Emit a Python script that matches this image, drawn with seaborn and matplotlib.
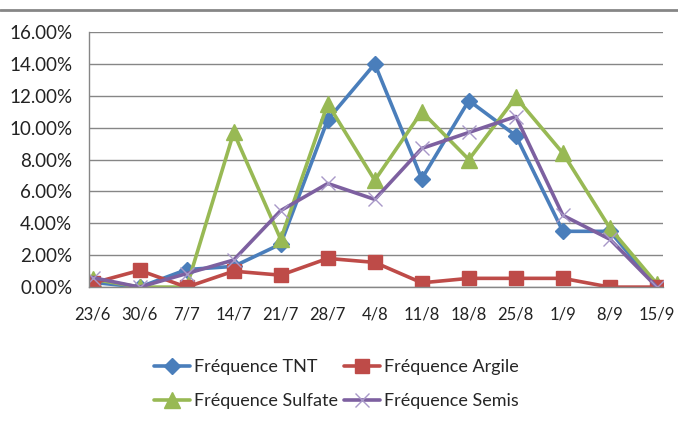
import numpy as np
import pandas as pd
import matplotlib
matplotlib.use("Agg")
import matplotlib.pyplot as plt
import seaborn as sns
from matplotlib.lines import Line2D
from matplotlib.ticker import PercentFormatter

# dates (x categories)
dates = ["23/6", "30/6", "7/7", "14/7", "21/7", "28/7", "4/8", "11/8",
         "18/8", "25/8", "1/9", "8/9", "15/9"]

# frequencies in %
tnt = [0.3, 0.0, 1.1, 1.3, 2.7, 10.5, 14.0, 6.8, 11.7, 9.5, 3.5, 3.5, 0.0]
argile = [0.25, 1.05, 0.0, 1.0, 0.75, 1.8, 1.55, 0.27, 0.55, 0.55, 0.55, 0.0, 0.0]
sulfate = [0.5, 0.0, 0.0, 9.7, 3.0, 11.5, 6.7, 11.0, 8.0, 11.9, 8.4, 3.7, 0.2]
semis = [0.6, 0.0, 0.85, 1.7, 4.8, 6.5, 5.5, 8.7, 9.7, 10.7, 4.5, 3.0, 0.0]

sns.set_style("white")
plt.rcParams["font.family"] = ["Lato", "DejaVu Sans"]

fig = plt.figure(figsize=(6.78, 4.21), dpi=100)
ax = fig.add_axes([0.131, 0.318, 0.847, 0.606])

x = np.arange(len(dates))
series = [
    ("Fréquence TNT", tnt, "#4A7EBB", "D", 8),
    ("Fréquence Sulfate", sulfate, "#98B954", "^", 11),
    ("Fréquence Argile", argile, "#BE4B48", "s", 10),
    ("Fréquence Semis", semis, "#7D60A0", "x", 10),
]
for name, vals, col, mk, ms in series:
    sns.lineplot(x=x, y=vals, ax=ax, color=col, linewidth=2.6, marker=mk,
                 markersize=ms, markeredgecolor=col if mk != "x" else "#A898C8",
                 markeredgewidth=1.0, label=name)

ax.set_ylim(0, 16)
ax.set_xlim(-0.08, 12.13)
ax.set_yticks(np.arange(0, 17, 2))
ax.yaxis.set_major_formatter(PercentFormatter(decimals=2))
ax.set_xticks(x)
ax.set_xticklabels(dates)
ax.yaxis.grid(True, color="#868686", linewidth=1)
ax.set_axisbelow(True)
for s in ["top", "right"]:
    ax.spines[s].set_visible(False)
for s in ["left", "bottom"]:
    ax.spines[s].set_color("#868686")
    ax.spines[s].set_linewidth(1)
ax.tick_params(axis="both", length=4, color="#868686", labelcolor="#222222")
ax.tick_params(axis="x", pad=10, labelsize=12)
ax.tick_params(axis="y", pad=8, labelsize=13.5)
ax.set_xlabel("")
ax.set_ylabel("")

ax.legend_.remove()
handles, labels = ax.get_legend_handles_labels()
fig.legend(handles, labels, ncol=2, loc="center", bbox_to_anchor=(0.496, 0.087),
           frameon=False, fontsize=13, handlelength=2.0, columnspacing=0.3,
           labelspacing=1.0, handletextpad=0.25)

# top border line of the chart frame
fig.add_artist(Line2D([0, 1], [0.976, 0.976], color="#868686", linewidth=2,
                      transform=fig.transFigure))

fig.savefig("out.png", dpi=100)
